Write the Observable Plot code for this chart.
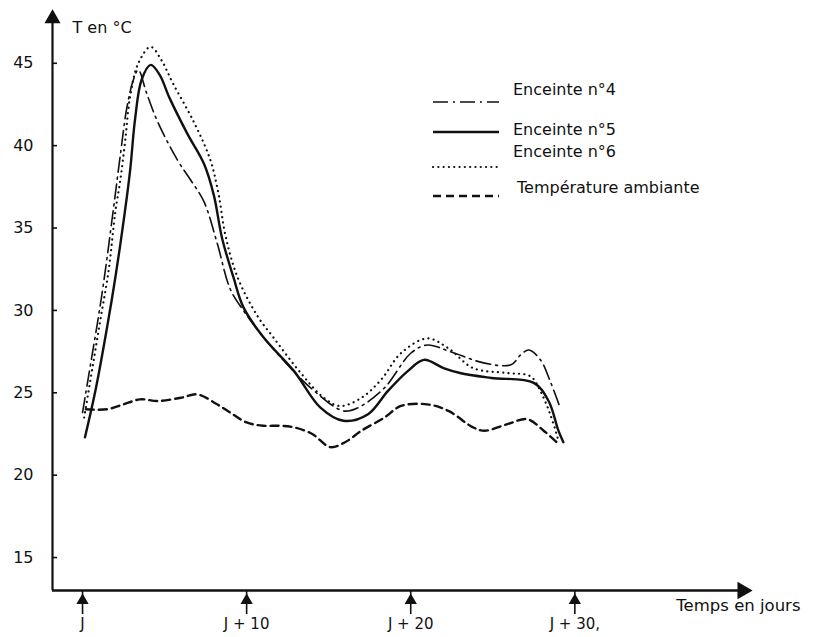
<!DOCTYPE html>
<html><head><meta charset="utf-8">
<script src="https://cdn.jsdelivr.net/npm/d3@7"></script>
<script src="https://cdn.jsdelivr.net/npm/@observablehq/plot@0.6"></script>
<style>
body{margin:0;background:#fff;}
#wrap{position:relative;width:818px;height:637px;font-family:"DejaVu Sans",sans-serif;color:#111;background:#fff;}
.lg{position:absolute;font-size:16px;white-space:nowrap;line-height:16px;}
.ls{position:absolute;}
</style></head><body><div id="wrap"></div>
<script>
// ---- data (days after J, temperature °C) ----
const days4 = [0, 0.5, 1.0, 1.4, 1.9, 2.3, 2.7, 3.1, 3.4, 3.9, 4.6, 5.8, 6.6, 7.4, 8.2, 9.0, 9.8, 11.0, 12.4, 13.9, 15.9, 16.8, 18.4, 20.0, 21.0, 22.4, 24.5, 26.1, 26.7, 27.2, 27.9, 28.5, 29.1];
const temp4 = [23.8, 26.8, 29.8, 32.5, 36.3, 39.4, 42.3, 44.0, 44.6, 43.2, 41.4, 39.1, 37.9, 36.6, 34.1, 31.3, 30.0, 28.4, 26.8, 25.3, 23.9, 24.1, 25.3, 27.4, 27.9, 27.5, 26.8, 26.7, 27.3, 27.6, 27.0, 25.7, 24.1];

const days5 = [0.15, 0.8, 1.5, 2.0, 2.5, 2.9, 3.2, 3.6, 4.15, 4.7, 5.3, 6.4, 7.4, 8.0, 8.5, 9.2, 9.8, 11.0, 12.9, 14.5, 15.9, 17.4, 18.6, 19.8, 20.8, 22.0, 23.0, 24.9, 27.5, 28.4, 29.0, 29.3];
const temp5 = [22.3, 25.2, 29.0, 32.0, 35.4, 38.5, 41.6, 44.0, 44.9, 44.3, 42.9, 40.7, 38.9, 37.0, 34.4, 32.0, 30.2, 28.4, 26.3, 24.1, 23.3, 23.7, 25.1, 26.3, 27.0, 26.5, 26.2, 25.9, 25.6, 24.5, 22.7, 22.0];

const days6 = [0.1, 0.6, 1.1, 1.6, 2.0, 2.3, 2.6, 2.9, 3.4, 4.15, 4.8, 5.5, 6.8, 7.8, 8.3, 8.7, 9.45, 10.7, 11.6, 13.3, 14.7, 15.7, 17.0, 18.2, 19.4, 21.0, 22.3, 23.8, 25.9, 27.3, 27.9, 28.5, 29.0];
const temp6 = [23.5, 26.5, 29.5, 32.5, 36.0, 37.9, 40.3, 43.0, 45.0, 46.0, 45.2, 43.8, 41.4, 39.1, 37.0, 34.6, 32.0, 29.6, 28.4, 26.2, 24.7, 24.2, 24.7, 25.8, 27.4, 28.3, 27.7, 26.5, 26.2, 26.0, 25.1, 23.7, 22.1];

const daysAmb = [0.2, 1.5, 2.5, 3.5, 4.6, 6.0, 7.0, 8.2, 9.0, 10.0, 11.0, 12.0, 12.9, 14.0, 15.1, 16.0, 17.0, 18.4, 19.4, 21.0, 22.3, 23.8, 24.5, 25.9, 27.1, 28.1, 29.0];
const tempAmb = [24.0, 24.0, 24.3, 24.6, 24.5, 24.7, 24.9, 24.3, 23.8, 23.2, 23.0, 23.0, 22.9, 22.5, 21.7, 22.0, 22.7, 23.5, 24.2, 24.3, 23.9, 22.9, 22.7, 23.1, 23.4, 22.7, 21.9];

const seriesNames = ["Enceinte n°4", "Enceinte n°5", "Enceinte n°6", "Température ambiante"];
const yTicks = [15, 20, 25, 30, 35, 40, 45];
const xTicks = [0, 10, 20, 30];
const xTickLabels = ["J", "J + 10", "J + 20", "J + 30,"];
const yTitle = "T en °C";
const xTitle = "Temps en jours";

// ---- styles ----
const ink = "#111";
const styles = [
  {strokeWidth: 1.6, strokeDasharray: "15,5,2,5"},
  {strokeWidth: 2.4, strokeDasharray: null},
  {strokeWidth: 2.2, strokeDasharray: "0.1,5.2", strokeLinecap: "round"},
  {strokeWidth: 2.4, strokeDasharray: "8,5"}
];
const xDomain = [-1.83, 40.4];
const yDomain = [13, 47.9];

const zip = (xs, ys) => xs.map((d, i) => ({day: d, t: ys[i]}));
const seriesData = [zip(days4, temp4), zip(days5, temp5), zip(days6, temp6), zip(daysAmb, tempAmb)];

const chart = Plot.plot({
  width: 818, height: 637,
  marginLeft: 52, marginRight: 73, marginTop: 15, marginBottom: 47,
  style: {background: "#fff", color: ink, fontFamily: "'DejaVu Sans', sans-serif"},
  x: {domain: xDomain},
  y: {domain: yDomain},
  marks: [
    // axis lines
    Plot.ruleX([xDomain[0]], {stroke: ink, strokeWidth: 2.2}),
    Plot.ruleY([yDomain[0]], {stroke: ink, strokeWidth: 2.6}),
    // axis arrowheads
    Plot.dot([{x: xDomain[0], y: yDomain[1]}], {x: "x", y: "y", symbol: "triangle", r: 5, fill: ink, stroke: ink, dy: 3}),
    Plot.dot([{x: xDomain[1], y: yDomain[0]}], {x: "x", y: "y", symbol: "triangle", r: 5.5, fill: ink, stroke: ink, rotate: 90, dx: -3}),
    // y ticks (inward marks) and labels
    Plot.axisY({ticks: yTicks, tickSize: -5, tickFormat: () => "", stroke: ink, strokeWidth: 1.6}),
    Plot.axisY({ticks: yTicks, tickSize: 0, tickPadding: 19, fontSize: 16, fill: ink}),
    // x tick arrows and labels
    Plot.axisX({ticks: xTicks, tickSize: 24, tickFormat: () => "", stroke: ink, strokeWidth: 1.6}),
    Plot.dot(xTicks, {x: d => d, y: () => yDomain[0], dy: 10, symbol: "triangle", r: 3.6, fill: ink, stroke: ink}),
    Plot.axisX({ticks: xTicks, tickSize: 0, tickPadding: 28, tickFormat: d => xTickLabels[xTicks.indexOf(d)], fontSize: 15, fill: ink}),
    // titles
    Plot.text([yTitle], {frameAnchor: "top-left", dx: 20, dy: 6, textAnchor: "start", fontSize: 16, fill: ink}),
    Plot.text([xTitle], {frameAnchor: "bottom-right", dx: 55, dy: 20, textAnchor: "end", fontSize: 16.5, fill: ink}),
    // series
    ...seriesData.map((data, i) => Plot.line(data, {x: "day", y: "t", curve: "catmull-rom", stroke: ink, fill: "none", ...styles[i]}))
  ]
});

const wrap = document.getElementById("wrap");
wrap.appendChild(chart);

// ---- legend (HTML overlay) ----
const legendLayout = [
  {lineTop: 102, textTop: 82, textLeft: 513},
  {lineTop: 132, textTop: 122, textLeft: 513},
  {lineTop: 167, textTop: 144, textLeft: 513},
  {lineTop: 196, textTop: 180, textLeft: 517}
];
seriesNames.forEach((name, i) => {
  const L = legendLayout[i];
  const s = styles[i];
  const svg = document.createElementNS("http://www.w3.org/2000/svg", "svg");
  svg.setAttribute("width", 70); svg.setAttribute("height", 8);
  svg.setAttribute("class", "ls");
  svg.style.left = "431px"; svg.style.top = (L.lineTop - 4) + "px";
  const ln = document.createElementNS("http://www.w3.org/2000/svg", "line");
  ln.setAttribute("x1", 2); ln.setAttribute("x2", 68); ln.setAttribute("y1", 4); ln.setAttribute("y2", 4);
  ln.setAttribute("stroke", ink); ln.setAttribute("stroke-width", s.strokeWidth);
  if (s.strokeDasharray) ln.setAttribute("stroke-dasharray", s.strokeDasharray);
  if (s.strokeLinecap) ln.setAttribute("stroke-linecap", s.strokeLinecap);
  svg.appendChild(ln);
  wrap.appendChild(svg);
  const t = document.createElement("div");
  t.className = "lg";
  t.style.left = L.textLeft + "px"; t.style.top = L.textTop + "px";
  t.textContent = name;
  wrap.appendChild(t);
});
</script></body></html>
